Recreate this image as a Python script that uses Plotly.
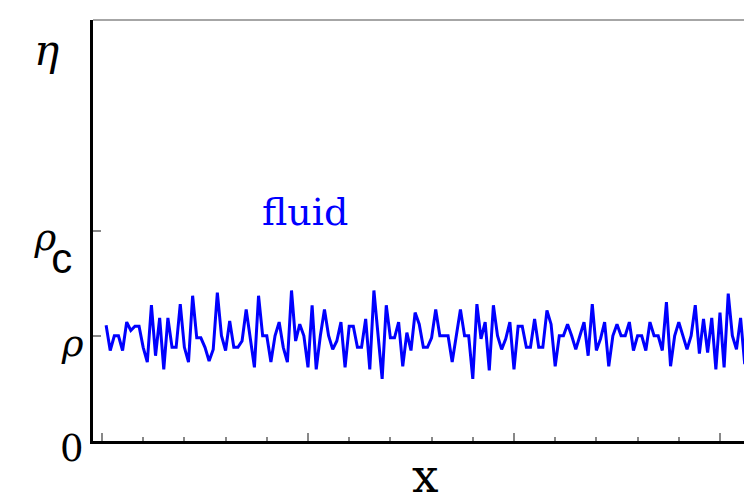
import plotly.graph_objects as go

# ---- data ----
positions = list(range(1, 159))
density = [
    1.10, 0.86, 1.00, 1.00, 0.86, 1.13, 1.05, 1.09, 1.09, 0.89,
    0.75, 1.29, 0.81, 1.17, 0.68, 1.17, 0.89, 0.89, 1.30, 0.89,
    0.75, 1.38, 0.98, 0.98, 0.89, 0.76, 0.87, 1.41, 1.00, 0.86,
    1.14, 0.89, 0.89, 0.95, 1.25, 0.95, 0.70, 1.38, 1.00, 1.00,
    0.75, 1.00, 1.13, 0.89, 0.75, 1.43, 0.95, 1.11, 1.00, 0.70,
    1.29, 0.68, 1.00, 1.25, 1.00, 0.87, 0.95, 1.13, 0.70, 1.09,
    1.09, 0.89, 0.89, 1.16, 0.68, 1.43, 1.02, 0.59, 1.29, 0.98,
    0.98, 1.13, 0.71, 1.03, 0.86, 1.22, 1.11, 0.89, 0.89, 0.98,
    1.25, 1.00, 1.00, 1.00, 0.75, 1.00, 1.25, 1.00, 1.00, 0.59,
    1.30, 0.97, 1.13, 0.67, 1.29, 1.00, 0.87, 0.97, 1.13, 0.68,
    1.09, 1.09, 0.89, 0.89, 1.16, 0.89, 0.89, 1.24, 1.11, 0.71,
    1.00, 1.00, 1.11, 1.00, 0.87, 1.00, 1.13, 0.81, 1.30, 0.86,
    0.97, 1.13, 0.71, 1.00, 1.11, 1.00, 1.00, 1.13, 0.86, 1.00,
    1.00, 0.86, 1.13, 1.00, 1.00, 0.86, 1.32, 0.71, 1.00, 1.13,
    1.00, 0.87, 1.00, 1.29, 0.83, 1.16, 0.84, 1.17, 0.68, 1.22,
    0.70, 1.40, 1.00, 0.87, 1.17, 0.73, 1.00, 1.00,
]
y_tick_vals = [0, 1, 2]
y_tick_text = [
    "0",
    "<i>ρ</i>",
    "<span style=\"letter-spacing:-5px\"><i>ρ</i></span>"
    "<span style=\"font-family:'Liberation Sans';font-size:42px;baseline-shift:-23px\">c</span>"
    "<span style=\"font-size:36px\">\u00a0</span>",
]
x_major_ticks = [0, 50, 100, 150]
label_text = "fluid"
label_pos = (49.3, 2.18)
eta_text = "<i>η</i>"
x_title = "x"

SERIF = "DejaVu Serif"

fig = go.Figure()
fig.add_trace(go.Scatter(
    x=positions, y=density, mode="lines",
    line=dict(color="#0000ff", width=3),
    showlegend=False, hoverinfo="skip",
))

fig.add_annotation(
    x=label_pos[0], y=label_pos[1], xref="x", yref="y",
    text=label_text, showarrow=False, xanchor="center", yanchor="middle",
    font=dict(family=SERIF, size=38, color="#0000ff"),
)
fig.add_annotation(
    x=-0.069, y=3.71, xref="paper", yref="y",
    text=eta_text, showarrow=False, xanchor="center", yanchor="middle",
    font=dict(family=SERIF, size=42, color="black"),
)
fig.add_annotation(
    x=78.6, y=-0.081, xref="x", yref="paper",
    text=x_title, showarrow=False, xanchor="center", yanchor="middle",
    font=dict(family=SERIF, size=47, color="black"),
)
# thin grey frame line at top
fig.add_shape(type="line", xref="paper", yref="paper",
              x0=0, x1=1, y0=1, y1=1,
              line=dict(color="#888888", width=1.5))

fig.update_layout(
    width=752, height=502,
    margin=dict(l=85, r=0, t=12, b=69),
    paper_bgcolor="white", plot_bgcolor="white",
    xaxis=dict(
        range=[-2.18, 159.71], automargin=False,
        showgrid=False, zeroline=False,
        showline=True, linecolor="black", linewidth=3,
        ticks="inside", tickvals=x_major_ticks, ticklen=8,
        tickcolor="#888888", tickwidth=1.5,
        showticklabels=False,
        minor=dict(ticks="inside", dtick=10, tick0=0, ticklen=4,
                   tickcolor="#888888", tickwidth=1.5, showgrid=False),
    ),
    yaxis=dict(
        range=[0, 4], automargin=False,
        showgrid=False, zeroline=False,
        showline=True, linecolor="black", linewidth=3,
        ticks="inside", tickvals=y_tick_vals, ticktext=y_tick_text,
        ticklen=8, tickcolor="#888888", tickwidth=1.5,
        tickfont=dict(family=SERIF, size=37, color="black"),
        ticklabelstandoff=-1, ticklabelshift=7,
    ),
)

fig.write_html("out.html")
